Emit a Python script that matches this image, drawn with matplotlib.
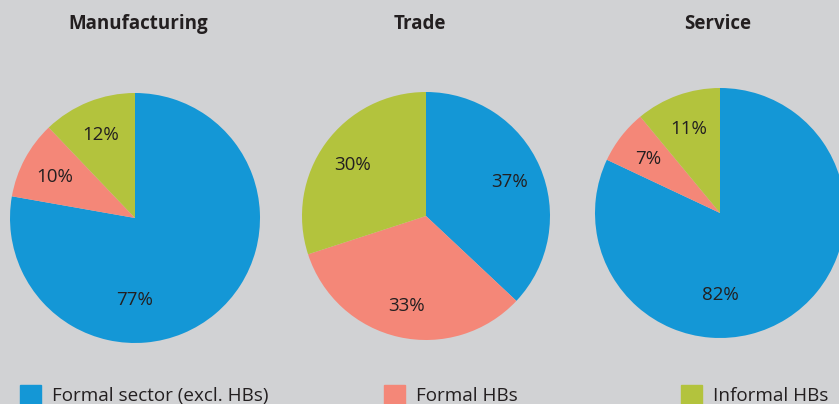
import matplotlib
matplotlib.use('Agg')
import matplotlib.pyplot as plt
from matplotlib.patches import Patch

# data
sectors = ['Manufacturing', 'Trade', 'Service']
categories = ['Formal sector (excl. HBs)', 'Formal HBs', 'Informal HBs']
manufacturing = [77, 10, 12]
trade = [37, 33, 30]
service = [82, 7, 11]
shares = [manufacturing, trade, service]

colors = ['#1497d6', '#f48778', '#b3c33d']
bg = '#d1d2d4'
txt = '#231f20'

plt.rcParams['font.family'] = ['Open Sans', 'DejaVu Sans']

W, H = 839, 404
fig = plt.figure(figsize=(W / 100, H / 100), dpi=100, facecolor=bg)

# pie boxes in pixels: (center x, center y from top, radius)
boxes = [(135, 218, 125), (426, 216, 124), (720, 213, 125)]
title_x = [138, 420, 718]

for i, vals in enumerate(shares):
    cx, cy, r = boxes[i]
    ax = fig.add_axes([(cx - r) / W, (H - cy - r) / H, 2 * r / W, 2 * r / H])
    ax.set_facecolor(bg)
    wedges, texts, autotexts = ax.pie(vals, colors=colors, startangle=90, counterclock=False,
                                      autopct=lambda p: '%d%%' % round(p * sum(vals) / 100),
                                      pctdistance=0.73, radius=1,
                                      wedgeprops=dict(linewidth=0),
                                      textprops=dict(fontsize=13.5, color=txt))
    for v, t in zip(vals, autotexts):
        t.set_va('center_baseline')
        # the big share sits at the bottom
        if v > 50:
            t.set_position((0, -0.64))
    ax.set_xlim(-1, 1)
    ax.set_ylim(-1, 1)
    ax.axis('off')
    fig.text(title_x[i] / W, 1 - 24 / H, sectors[i], ha='center', va='center',
             fontsize=13.5, fontweight='bold', color=txt)

# legend, one per entry
leg_x = [20, 384, 681]
for i, c in enumerate(categories):
    lg = fig.legend(handles=[Patch(color=colors[i], label=c)], loc='center left',
                    bbox_to_anchor=(leg_x[i] / W, 1 - 395 / H), frameon=False,
                    fontsize=13.6, handlelength=1.12, handleheight=1.12, handletextpad=0.55,
                    borderpad=0, borderaxespad=0)
    for t in lg.get_texts():
        t.set_color(txt)

fig.savefig('out.png', dpi=100, facecolor=bg)
